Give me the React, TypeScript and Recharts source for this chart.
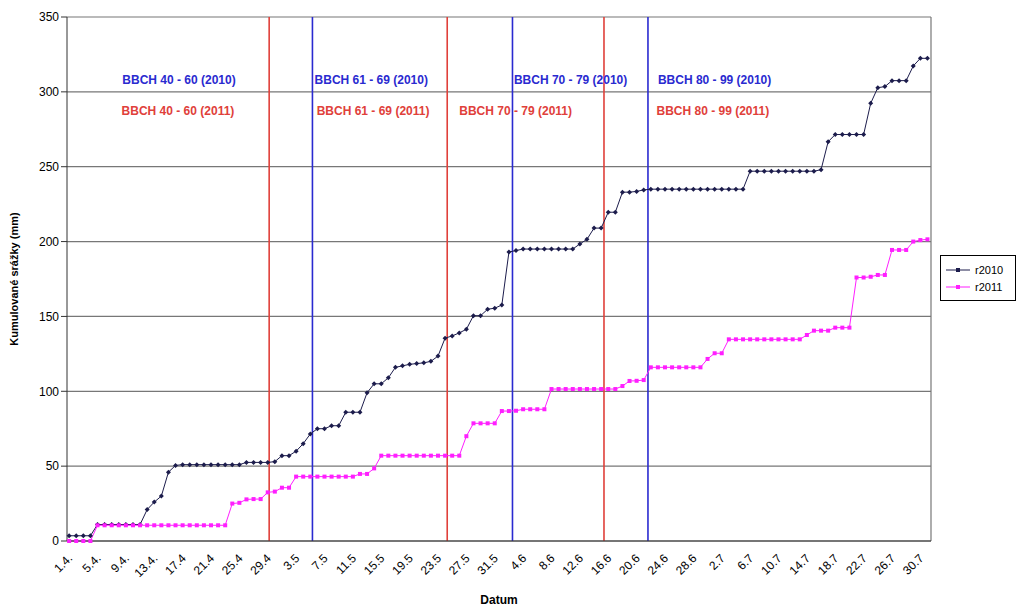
import React from 'react';
import {
  LineChart, Line, XAxis, YAxis, CartesianGrid, ReferenceLine, ReferenceDot, Legend, Label,
} from 'recharts';

// cumulative precipitation per day, 1.4. .. 31.7.
const r2010 = [
  3.5, 3.5, 3.5, 3.5, 11, 11, 11, 11, 11, 11, 11, 21, 26, 30, 46, 50.5,
  51, 51, 51, 51, 51, 51, 51, 51, 51, 52.5, 52.5, 52.5, 52.5,
  53, 57, 57, 60, 65, 71.5, 75, 75, 77, 77, 86, 86, 86, 99, 105, 105, 109, 116, 117, 118, 118.5, 119, 120, 123.5,
  135.5, 137, 139, 141.4, 150.5, 150.5, 154.8, 155.5, 157.6, 193, 194,
  195, 195, 195, 195, 195, 195, 195, 195,
  198.4, 201.5, 209, 209, 219.6, 219.6, 233, 233, 233.5, 234.5,
  235, 235, 235, 235, 235, 235, 235, 235, 235, 235, 235, 235, 235, 235,
  247, 247, 247, 247, 247, 247, 247, 247, 247, 247,
  248, 266.7, 271.5, 271.5, 271.5, 271.5, 271.5,
  292.4, 302.8, 303.5, 307.5, 307.5, 307.5, 317.3, 322.4, 322.4,
];

const r2011 = [
  0, 0, 0, 0,
  10.5, 10.5, 10.5, 10.5, 10.5, 10.5, 10.5, 10.5, 10.5, 10.5, 10.5, 10.5, 10.5, 10.5, 10.5, 10.5, 10.5, 10.5, 10.5,
  25, 25.5, 27.8, 28, 28, 32.5, 33, 35.6, 35.6,
  43, 43, 43, 43, 43, 43, 43, 43, 43,
  44.8, 44.8, 48.5,
  57, 57, 57, 57, 57, 57, 57, 57, 57, 57, 57, 57,
  70, 78.6, 78.6, 78.6, 78.6, 86.8, 86.8, 87, 88, 88, 88, 88,
  101.5, 101.5, 101.5, 101.5, 101.5, 101.5, 101.5, 101.5, 101.5, 101.5,
  103.5, 106.9, 107, 107.5,
  116, 116, 116, 116, 116, 116, 116, 116,
  121.6, 125.4, 125.4,
  134.7, 134.7, 134.7, 134.7, 134.7, 134.7, 134.7, 134.7, 134.7, 134.7, 134.7,
  137.6, 140.5, 140.5, 140.5, 142.5, 142.5, 142.5,
  176, 176, 176.5, 177.7, 177.7,
  194.4, 194.4, 194.4, 200, 201, 201.5,
];

const tickPos = [0, 4, 8, 12, 16, 20, 24, 28, 32, 36, 40, 44, 48, 52, 56, 60, 64, 68, 72, 76, 80, 84, 88, 92, 96, 100, 104, 108, 112, 116, 120];
const tickLabels = [
  '1.4.', '5.4.', '9.4.', '13.4.', '17.4', '21.4', '25.4', '29.4', '3.5', '7.5', '11.5', '15.5', '19.5', '23.5', '27.5', '31.5',
  '4.6', '8.6', '12.6', '16.6', '20.6', '24.6', '28.6', '2.7', '6.7', '10.7', '14.7', '18.7', '22.7', '26.7', '30.7',
];
const yTicks = [0, 50, 100, 150, 200, 250, 300, 350];

// phase boundaries (day index) and phase labels
const phaseLines = [
  { x: 28.2, color: '#e0403a' },
  { x: 34.3, color: '#2a2ad0' },
  { x: 53.3, color: '#e0403a' },
  { x: 62.5, color: '#2a2ad0' },
  { x: 75.4, color: '#e0403a' },
  { x: 81.6, color: '#2a2ad0' },
];
const phaseLabels = [
  { x: 7.5, y: 308, text: 'BBCH 40 - 60 (2010)', color: '#2a2ad0' },
  { x: 34.6, y: 308, text: 'BBCH 61 - 69 (2010)', color: '#2a2ad0' },
  { x: 62.7, y: 308, text: 'BBCH 70 - 79 (2010)', color: '#2a2ad0' },
  { x: 83.0, y: 308, text: 'BBCH 80 - 99 (2010)', color: '#2a2ad0' },
  { x: 7.4, y: 287, text: 'BBCH 40 - 60 (2011)', color: '#e0403a' },
  { x: 34.9, y: 287, text: 'BBCH 61 - 69 (2011)', color: '#e0403a' },
  { x: 55.0, y: 287, text: 'BBCH 70 - 79 (2011)', color: '#e0403a' },
  { x: 82.8, y: 287, text: 'BBCH 80 - 99 (2011)', color: '#e0403a' },
];

const data = r2010.map((v, i) => ({ i, r2010: v, r2011: r2011[i] }));

const Diamond = (props: any) => {
  const { cx, cy } = props;
  if (cx == null || cy == null) return null;
  return <path d={`M${cx},${cy - 2.5}L${cx + 2.5},${cy}L${cx},${cy + 2.5}L${cx - 2.5},${cy}Z`} fill="#1c1c4c" />;
};
const Square = (props: any) => {
  const { cx, cy } = props;
  if (cx == null || cy == null) return null;
  return <rect x={cx - 2} y={cy - 2} width={4} height={4} fill="#ff1fff" />;
};

const XTick = (props: any) => {
  const { x, y, payload } = props;
  const idx = tickPos.indexOf(payload.value);
  return (
    <text x={x + 4} y={y + 10} transform={`rotate(-45 ${x + 4} ${y + 10})`} textAnchor="end" fontSize={12} fill="#000">
      {tickLabels[idx]}
    </text>
  );
};

const LegendBox = () => (
  <div style={{ border: '1px solid #000', width: 74, padding: '5px 0', fontSize: 11, fontFamily: 'Liberation Sans, Arial', background: '#fff' }}>
    {[
      { name: 'r2010', c: '#1c1c4c' },
      { name: 'r2011', c: '#ff1fff' },
    ].map((e) => (
      <div key={e.name} style={{ display: 'flex', alignItems: 'center', height: 17 }}>
        <svg width={28} height={8} style={{ marginLeft: 3 }}>
          <line x1={2} y1={4} x2={26} y2={4} stroke={e.c} strokeWidth={1} />
          <rect x={12} y={2} width={4} height={4} fill={e.c} />
        </svg>
        <span style={{ marginLeft: 3 }}>{e.name}</span>
      </div>
    ))}
  </div>
);

export default function App() {
  return (
    <div style={{ position: 'fixed', left: 0, top: 0, width: 1018, height: 610, background: '#fff', fontFamily: 'Liberation Sans, Arial, sans-serif' }}>
      <LineChart width={1018} height={610} data={data} margin={{ top: 17, right: 11, left: 0, bottom: 24 }}>
        <CartesianGrid vertical={false} stroke="#777" strokeWidth={1.2} />
        <XAxis
          dataKey="i"
          type="number"
          domain={[-0.3, 121.5]}
          ticks={tickPos}
          interval={0}
          tick={<XTick />}
          tickLine={false}
          axisLine={{ stroke: '#333' }}
          height={45}
        >
          <Label value="Datum" position="insideBottom" offset={-18} style={{ fontSize: 12, fontWeight: 'bold', fill: '#000' }} />
        </XAxis>
        <YAxis
          domain={[0, 350]}
          ticks={yTicks}
          width={67}
          tick={{ fontSize: 12, fill: '#000' }}
          tickLine={{ stroke: '#333' }}
          axisLine={{ stroke: '#333' }}
        >
          <Label value="Kumulované srážky (mm)" angle={-90} position="insideLeft" offset={14} style={{ textAnchor: 'middle', fontSize: 11, fontWeight: 'bold', fill: '#000' }} />
        </YAxis>
        <ReferenceLine x={121.5} stroke="#777" strokeWidth={1.2} />
        {phaseLines.map((p, k) => (
          <ReferenceLine key={k} x={p.x} stroke={p.color} strokeWidth={1.6} />
        ))}
        <Line dataKey="r2010" stroke="#1c1c4c" strokeWidth={1} dot={<Diamond />} isAnimationActive={false} />
        <Line dataKey="r2011" stroke="#ff1fff" strokeWidth={1} dot={<Square />} isAnimationActive={false} />
        {phaseLabels.map((p, k) => (
          <ReferenceDot
            key={'l' + k}
            x={p.x}
            y={p.y}
            r={0}
            fill="none"
            stroke="none"
            label={(lp: any) => (
              <text x={lp.viewBox.x} y={lp.viewBox.y + 4} fontSize={12} fontWeight="bold" fill={p.color}>
                {p.text}
              </text>
            )}
          />
        ))}
        <Legend content={<LegendBox />} layout="vertical" verticalAlign="top" align="right" wrapperStyle={{ left: 940, top: 255, width: 76 }} />
      </LineChart>
    </div>
  );
}
